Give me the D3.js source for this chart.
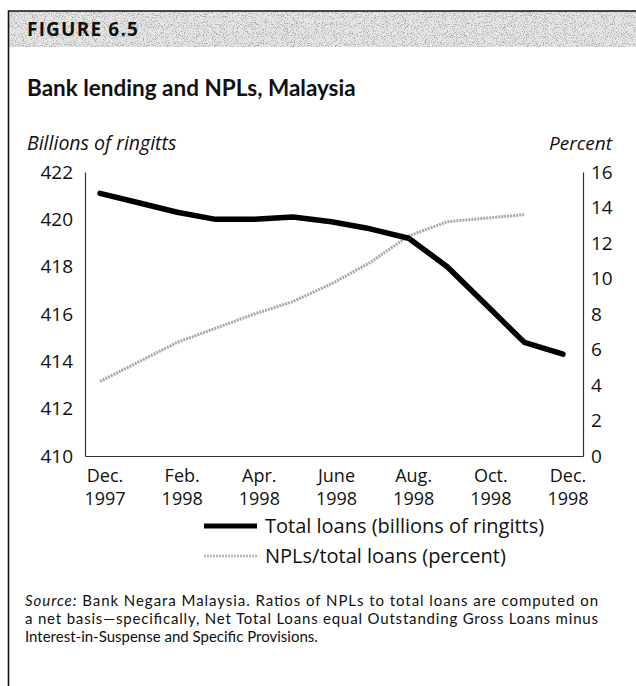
<!DOCTYPE html>
<html>
<head>
<meta charset="utf-8">
<script src="https://cdn.jsdelivr.net/npm/d3@7"></script>
<style>
  body { margin: 0; background: #fff; }
  svg { display: block; }
</style>
</head>
<body>
<script>
// Monthly observations, Dec. 1997 – Dec. 1998
const months = ["Dec. 1997", "Jan. 1998", "Feb. 1998", "Mar. 1998", "Apr. 1998", "May 1998",
  "June 1998", "July 1998", "Aug. 1998", "Sep. 1998", "Oct. 1998", "Nov. 1998", "Dec. 1998"];
// Total loans, billions of ringgit (left axis)
const totalLoans = [421.1, 420.7, 420.3, 420.0, 420.0, 420.1, 419.9, 419.6, 419.2, 418.0, 416.4, 414.8, 414.3];
// NPLs as percent of total loans (right axis); no figure for Dec. 1998
const nplRatio = [4.2, 5.3, 6.4, 7.2, 8.0, 8.7, 9.7, 10.9, 12.4, 13.2, 13.4, 13.6, null];

const xTickLabels = ["Dec. 1997", "Feb. 1998", "Apr. 1998", "June 1998", "Aug. 1998", "Oct. 1998", "Dec. 1998"];
const loanTicks = [410, 412, 414, 416, 418, 420, 422];
const pctTicks = [0, 2, 4, 6, 8, 10, 12, 14, 16];

const W = 636, H = 686;
const FONT = "'Open Sans', 'Noto Sans', sans-serif";
const HEAD_FONT = "Lato, 'Open Sans', sans-serif";

const svg = d3.select("body").append("svg")
  .attr("width", W).attr("height", H)
  .style("font-family", FONT);

// ---- header band with grainy tone ----
const defs = svg.append("defs");
const grain = defs.append("filter").attr("id", "grain")
  .attr("x", 0).attr("y", 0).attr("width", 1).attr("height", 1);
grain.append("feTurbulence").attr("type", "fractalNoise")
  .attr("baseFrequency", 0.9).attr("numOctaves", 2).attr("seed", 7);
grain.append("feColorMatrix").attr("type", "matrix")
  .attr("values", "0 0 0 0 0.42  0 0 0 0 0.42  0 0 0 0 0.42  6 0 0 0 -3.1");

svg.append("rect").attr("x", 8).attr("y", 11).attr("width", W - 8).attr("height", 36)
  .attr("fill", "#e6e6e6");
svg.append("rect").attr("x", 8).attr("y", 11).attr("width", W - 8).attr("height", 36)
  .attr("fill", "#000").attr("filter", "url(#grain)");

// frame: top rule and left rule
svg.append("path").attr("d", `M8.5,${H} V11 H${W}`)
  .attr("fill", "none").attr("stroke", "#111").attr("stroke-width", 1.6);

svg.append("text").attr("x", 27).attr("y", 36)
  .attr("font-size", 19).attr("font-weight", 700).attr("letter-spacing", 1.2).attr("fill", "#111")
  .text("FIGURE 6.5");

svg.append("text").attr("x", 27).attr("y", 96)
  .attr("font-family", HEAD_FONT)
  .attr("font-size", 22.5).attr("font-weight", 700).attr("fill", "#111")
  .text("Bank lending and NPLs, Malaysia");

// ---- chart ----
const plot = { left: 85, right: 583, top: 172, bottom: 456 };

const x = d3.scaleLinear().domain([0, months.length - 1]).range([100, 563]);
const yL = d3.scaleLinear().domain([410, 422]).range([plot.bottom, plot.top]);
const yR = d3.scaleLinear().domain([0, 16]).range([plot.bottom, plot.top]);

svg.append("text").attr("x", 27).attr("y", 150)
  .attr("font-size", 19.5).attr("font-style", "italic").attr("fill", "#111")
  .text("Billions of ringitts");
svg.append("text").attr("x", 612).attr("y", 150).attr("text-anchor", "end")
  .attr("font-size", 19).attr("font-style", "italic").attr("fill", "#111")
  .text("Percent");

const axisStyle = g => {
  g.select(".domain").attr("stroke", "#333").attr("stroke-width", 1.2);
  g.selectAll("text").attr("font-family", FONT).attr("font-size", 19).attr("fill", "#111");
};

svg.append("g").attr("transform", `translate(${plot.left},0)`)
  .call(d3.axisLeft(yL).tickValues(loanTicks).tickSize(0).tickPadding(12).tickSizeOuter(0))
  .call(axisStyle);

svg.append("g").attr("transform", `translate(${plot.right},0)`)
  .call(d3.axisRight(yR).tickValues(pctTicks).tickSize(0).tickPadding(8).tickSizeOuter(0))
  .call(axisStyle);

// baseline
const xb = d3.scaleLinear().domain([0, 1]).range([plot.left, plot.right]);
svg.append("g").attr("transform", `translate(0,${plot.bottom})`)
  .call(d3.axisBottom(xb).ticks(0).tickSize(0).tickSizeOuter(0))
  .call(axisStyle);

// two-line month labels under the baseline
const xLabels = svg.append("g").attr("font-size", 18).attr("fill", "#111");
xTickLabels.forEach(lbl => {
  const i = months.indexOf(lbl);
  const parts = lbl.split(" ");
  const t = xLabels.append("text").attr("text-anchor", "middle")
    .attr("transform", `translate(${x(i) + 5},0)`);
  t.append("tspan").attr("x", 0).attr("y", 482).text(parts[0]);
  t.append("tspan").attr("x", 0).attr("y", 505).text(parts[1]);
});

// NPL ratio line (grey, grainy)
const nplLine = d3.line()
  .defined(d => d != null)
  .x((d, i) => x(i)).y(d => yR(d));
svg.append("path").datum(nplRatio)
  .attr("d", nplLine)
  .attr("fill", "none").attr("stroke", "#a9a9a9").attr("stroke-width", 3)
  .attr("stroke-dasharray", "2 1").attr("stroke-linejoin", "round");

// Total loans line (heavy black)
const loanLine = d3.line().x((d, i) => x(i)).y(d => yL(d));
svg.append("path").datum(totalLoans)
  .attr("d", loanLine)
  .attr("fill", "none").attr("stroke", "#000").attr("stroke-width", 5.5)
  .attr("stroke-linejoin", "round").attr("stroke-linecap", "round");

// ---- legend ----
const legend = svg.append("g").attr("font-size", 20).attr("fill", "#111");
legend.append("line").attr("x1", 204).attr("x2", 257).attr("y1", 526).attr("y2", 526)
  .attr("stroke", "#000").attr("stroke-width", 5);
legend.append("text").attr("x", 265).attr("y", 533).text("Total loans (billions of ringitts)");
legend.append("line").attr("x1", 204).attr("x2", 257).attr("y1", 556).attr("y2", 556)
  .attr("stroke", "#b5b5b5").attr("stroke-width", 2.5).attr("stroke-dasharray", "2 1");
legend.append("text").attr("x", 265).attr("y", 563).text("NPLs/total loans (percent)");

// ---- source note (first two lines justified to the text block width) ----
const note = svg.append("g").attr("font-family", HEAD_FONT).attr("font-size", 15).attr("fill", "#111");
const l1 = note.append("text").attr("x", 25).attr("y", 606)
  .attr("textLength", 573).attr("lengthAdjust", "spacing");
l1.append("tspan").attr("font-style", "italic").text("Source:");
l1.append("tspan").text(" Bank Negara Malaysia. Ratios of NPLs to total loans are computed on");
note.append("text").attr("x", 25).attr("y", 624)
  .attr("textLength", 573).attr("lengthAdjust", "spacing")
  .text("a net basis\u2014specifically, Net Total Loans equal Outstanding Gross Loans minus");
note.append("text").attr("x", 25).attr("y", 642)
  .text("Interest-in-Suspense and Specific Provisions.");
</script>
</body>
</html>
